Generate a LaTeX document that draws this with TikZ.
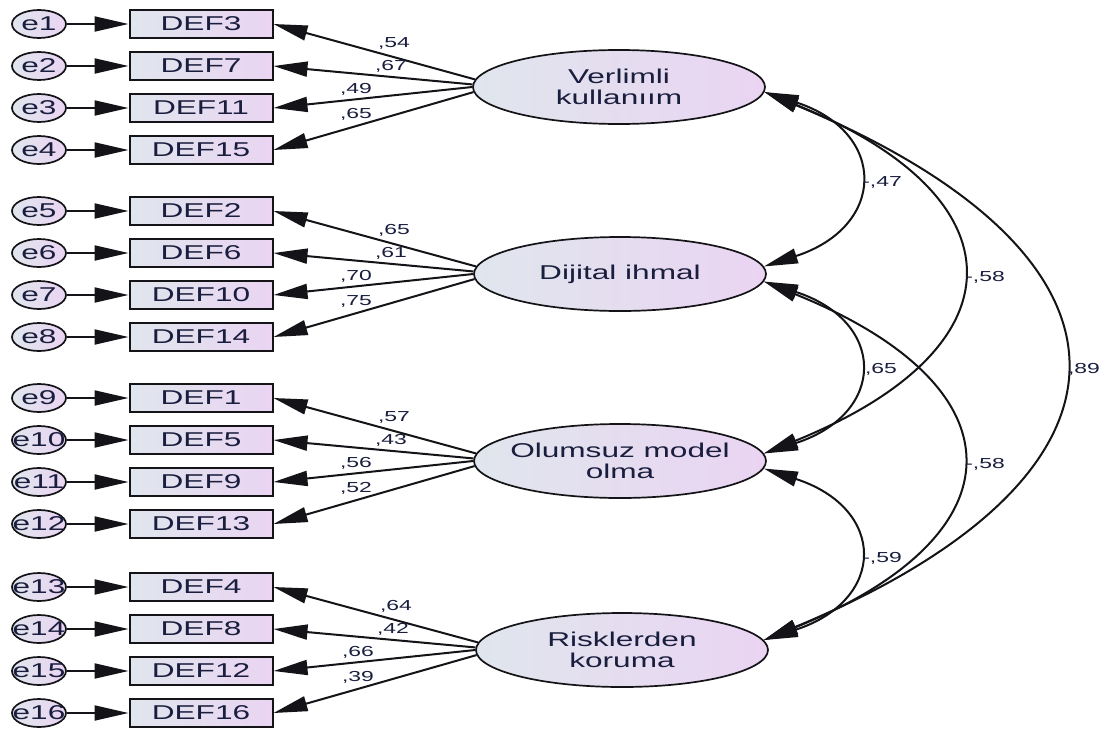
\documentclass[tikz,border=0pt]{standalone}
\usepackage{fontspec}
\setmainfont{Liberation Sans}
\newfontfamily\amos[FakeStretch=1.58]{Liberation Sans}
\usetikzlibrary{shapes.geometric,arrows.meta}
\definecolor{lftc}{RGB}{224,230,237}
\definecolor{rgtc}{RGB}{234,212,242}
\definecolor{txtc}{RGB}{26,30,62}
\definecolor{edgec}{RGB}{20,20,24}
\tikzset{
  errc/.style={ellipse, draw=edgec, line width=1.7pt, minimum width=54pt, minimum height=28pt,
    inner sep=0pt, left color=lftc, right color=rgtc, text=txtc,
    font=\amos\fontsize{20}{22}\selectfont},
  obs/.style={rectangle, draw=edgec, line width=2pt, minimum width=143pt, minimum height=28pt,
    inner sep=0pt, left color=lftc, right color=rgtc, text=txtc,
    font=\amos\fontsize{20}{22}\selectfont},
  lat/.style={ellipse, draw=edgec, line width=1.7pt, minimum width=292pt, minimum height=74pt,
    inner sep=0pt, align=center, left color=lftc, right color=rgtc, text=txtc,
    font=\amos\fontsize{20}{21}\selectfont},
  lab/.style={font=\amos\fontsize{14.5}{16}\selectfont, text=txtc, inner sep=0pt, anchor=base},
  arr/.style={line width=2pt, draw=edgec, -{Triangle[length=34pt,width=15pt]}},
  cov/.style={line width=2pt, draw=edgec,
    {Triangle[length=34pt,width=15pt]}-{Triangle[length=34pt,width=15pt]}}
}
\begin{document}
\begin{tikzpicture}[x=1pt,y=-1pt]
\useasboundingbox (0,0) rectangle (1102,731);
\fill[white] (0,0) rectangle (1102,731);

% latent variables
\node[lat] (V) at (619,87)  {\makebox[0pt]{Verlimli}\\\makebox[0pt]{kullanıım}};
\node[lat] (D) at (620,274) {\makebox[0pt]{Dijital ihmal}};
\node[lat] (O) at (620,461) {\makebox[0pt]{Olumsuz model}\\\makebox[0pt]{olma}};
\node[lat] (R) at (622,650) {\makebox[0pt]{Risklerden}\\\makebox[0pt]{koruma}};

% indicators and errors
\foreach \e/\d/\y in {1/3/24, 2/7/66, 3/11/108, 4/15/150,
                      5/2/211, 6/6/253, 7/10/295, 8/14/337,
                      9/1/398, 10/5/440, 11/9/482, 12/13/524,
                      13/4/587, 14/8/629, 15/12/671, 16/16/713}{
  \node[obs] (b\e) at (201,\y) {DEF\d};
  \node[errc] (e\e) at (39,\y) {\makebox[0pt]{e\e}};
  \draw[arr] (e\e.east) -- (b\e.west);
}

% loadings
\foreach \e/\lv/\ang/\val/\lx/\ly in {
   1/V/177.5/{,54}/394/47,   2/V/179.2/{,67}/391/70,   3/V/180.8/{,49}/356/93,   4/V/182.5/{,65}/356/118,
   5/D/177.5/{,65}/394/234,  6/D/179.2/{,61}/391/257,  7/D/180.8/{,70}/356/280,  8/D/182.5/{,75}/356/305,
   9/O/177.5/{,57}/394/421, 10/O/179.2/{,43}/391/444, 11/O/180.8/{,56}/356/467, 12/O/182.5/{,52}/356/492,
  13/R/177.5/{,64}/396/610, 14/R/179.2/{,42}/393/633, 15/R/180.8/{,66}/358/656, 16/R/182.5/{,39}/358/681}{
  \draw[arr] (\lv.\ang) -- (b\e.east);
  \node[lab] (l\e) at (\lx,\ly) {\val};
}

% covariances
\draw[cov] (V.-2.5) .. controls +(123,40) and +(123,-40) .. (D.3.5);
\draw[cov] (V.-2.5) .. controls +(260,105) and +(260,-105) .. (O.3);
\draw[cov] (V.-2.5) .. controls +(397,165) and +(397,-165) .. (R.4);
\draw[cov] (D.-3) .. controls +(123,40) and +(123,-40) .. (O.3);
\draw[cov] (D.-3) .. controls +(260,105) and +(260,-105) .. (R.4);
\draw[cov] (O.-3.5) .. controls +(123,40) and +(123,-40) .. (R.4);

\node[lab] (c1) at (882,186) {-,47};
\node[lab] (c2) at (985,281) {-,58};
\node[lab] (c3) at (881,373) {,65};
\node[lab] (c4) at (1084,373) {,89};
\node[lab] (c5) at (985,468) {-,58};
\node[lab] (c6) at (882,562) {-,59};
\end{tikzpicture}
\end{document}
